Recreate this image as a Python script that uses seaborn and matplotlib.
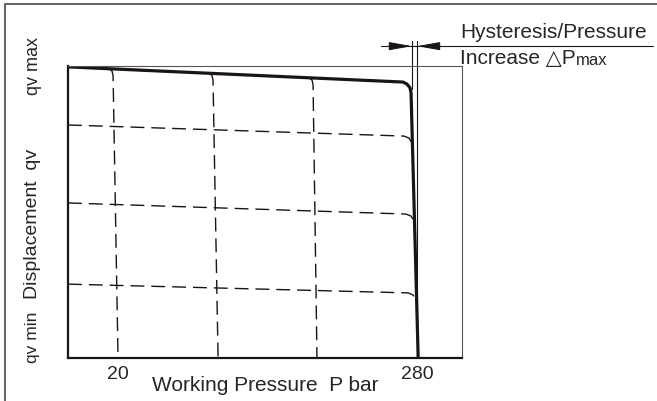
import matplotlib
matplotlib.use("Agg")
import matplotlib.pyplot as plt
import seaborn as sns
from matplotlib.lines import Line2D

sns.set_style("white")
plt.rcParams['font.family'] = ['Liberation Sans', 'DejaVu Sans']

# pressure axis (bar) and relative displacement (0 = qv min, 1 = qv max)
x_limits = (-23.5, 319.1)
tick_pos = [20, 280]
tick_labels = ["20", "280"]

# characteristic curve at max displacement setting
main_p = [-23.5, 267.8, 271.3, 273.9, 274.8, 281.0]
main_q = [0.997, 0.945, 0.938, 0.925, 0.908, 0.0]

# reduced displacement settings (dashed)
lvl1_p = [-23.5, 268.7, 273.0, 275.7]
lvl1_q = [0.798, 0.760, 0.753, 0.736]
lvl2_p = [-23.5, 270.4, 274.8, 277.4]
lvl2_q = [0.531, 0.493, 0.486, 0.469]
lvl3_p = [-23.5, 272.2, 276.5, 279.1]
lvl3_q = [0.253, 0.223, 0.216, 0.199]

# pressure settings (dashed verticals)
v1_p = [12.2, 14.8, 15.7, 20.0]
v1_q = [0.990, 0.983, 0.966, 0.0]
v2_p = [99.1, 101.7, 102.6, 107.0]
v2_q = [0.975, 0.967, 0.952, 0.0]
v3_p = [186.1, 188.7, 189.6, 193.0]
v3_q = [0.959, 0.952, 0.935, 0.0]

# hysteresis markers
hyst_left = 275.6
hyst_right = 280.0
arrow_q = 1.068
guide_top = 1.086

fig = plt.figure(figsize=(6.57, 4.01), dpi=100)
ax = fig.add_axes([68/657, 43/401, 394/657, 292/401])

sns.lineplot(x=main_p, y=main_q, sort=False, color="#1a1414", lw=2.3, ax=ax)
dash = (0, (10, 5))
for p, q in [(lvl1_p, lvl1_q), (lvl2_p, lvl2_q), (lvl3_p, lvl3_q),
             (v1_p, v1_q), (v2_p, v2_q), (v3_p, v3_q)]:
    sns.lineplot(x=p, y=q, sort=False, color="#1a1414", lw=1.0,
                 linestyle=dash, ax=ax)

ax.plot([hyst_right, hyst_right], [0, guide_top], color="#1a1414", lw=0.8, clip_on=False)
ax.plot([hyst_left, hyst_left], [0.92, guide_top], color="#1a1414", lw=0.8, clip_on=False)
ax.plot([248.7, 485.0], [arrow_q, arrow_q], color="#1a1414", lw=0.8, clip_on=False)
for tip, tail in [(hyst_left, 258.0), (hyst_right, 297.0)]:
    ax.annotate("", xy=(tip, arrow_q), xytext=(tail, arrow_q),
                arrowprops=dict(arrowstyle="-|>,head_length=1.4,head_width=0.25",
                                color="#1a1414", lw=0.8, shrinkA=0, shrinkB=0),
                annotation_clip=False)

ax.set_xlim(*x_limits)
ax.set_ylim(0, 1)
ax.set_xticks(tick_pos)
ax.set_xticklabels(tick_labels, fontsize=14)
ax.set_yticks([])
ax.tick_params(axis="x", length=0, pad=6)
for side in ["left", "bottom"]:
    ax.spines[side].set_color("#1a1414")
    ax.spines[side].set_linewidth(1.6)
for side in ["top", "right"]:
    ax.spines[side].set_color("#555555")
    ax.spines[side].set_linewidth(0.8)

ax.set_xlabel("Working Pressure  P bar", fontsize=15, labelpad=-5)

# y labels
fig.text(33/657, 1 - 66/401, "qv max", rotation=90, fontsize=13,
         ha="center", va="center")
fig.text(33/657, 1 - 224/401, "Displacement  qv", rotation=90, fontsize=14,
         ha="center", va="center")
fig.text(33/657, 1 - 337/401, "qv min", rotation=90, fontsize=12.5,
         ha="center", va="center")

# hysteresis annotation
fig.text(460/657, 1 - 38/401, "Hysteresis/Pressure", fontsize=15,
         ha="left", va="baseline")
t = fig.text(460/657, 1 - 64/401, "Increase \u25b3P", fontsize=15,
             ha="left", va="baseline")
ax.annotate("max", xy=(1, 0), xycoords=t, fontsize=12, ha="left", va="bottom")

# outer frame (left and top edges)
fig.add_artist(Line2D([5/657, 5/657], [0, 1 - 4/401], color="#666666", lw=1.5))
fig.add_artist(Line2D([5/657, 1], [1 - 4/401, 1 - 4/401], color="#666666", lw=1.5))

fig.savefig("out.png", dpi=100)
